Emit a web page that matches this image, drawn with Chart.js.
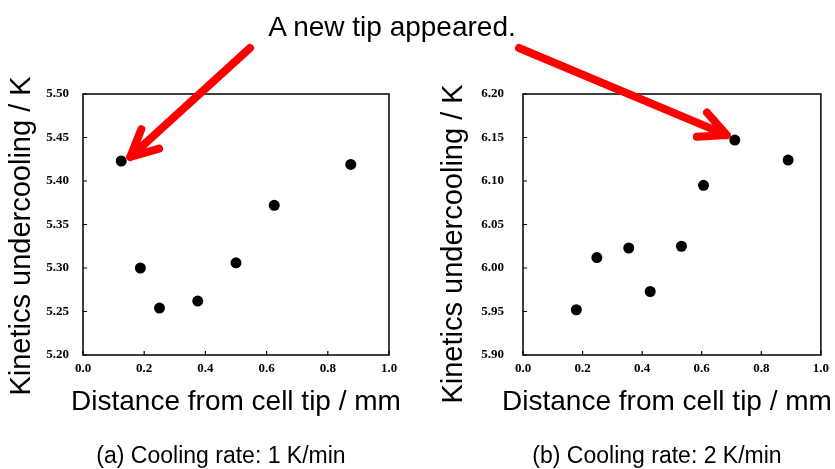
<!DOCTYPE html>
<html>
<head>
<meta charset="utf-8">
<script src="https://cdn.jsdelivr.net/npm/chart.js@4.4.0/dist/chart.umd.min.js"></script>
<style>
	body { margin: 0; background: #fff; }
	#page { position: relative; width: 835px; height: 469px; overflow: hidden; background: #fff; font-family: "Liberation Sans", Arial, sans-serif; }
	canvas { position: absolute; top: 0; }
	.note { position: absolute; left: 0; width: 784px; top: 9px; text-align: center; font-size: 28px; line-height: 36px; color: #000; }
	.caption { position: absolute; top: 440px; font-size: 23px; line-height: 30px; text-align: center; color: #000; }
</style>
</head>
<body>
<div id="page">
	<canvas id="chart-a" width="418" height="469" style="left:0px"></canvas>
	<canvas id="chart-b" width="417" height="469" style="left:418px"></canvas>
	<canvas id="arrows" width="835" height="469" style="left:0px"></canvas>
	<div class="note">A new tip appeared.</div>
	<div class="caption" style="left:61px; width:320px">(a) Cooling rate: 1 K/min</div>
	<div class="caption" style="left:497px; width:320px">(b) Cooling rate: 2 K/min</div>
</div>

<script>
// (a) 1 K/min
var distA = [0.125, 0.1875, 0.25, 0.375, 0.5, 0.625, 0.875];
var underA = [5.423, 5.300, 5.254, 5.262, 5.306, 5.372, 5.419];
var yTicksA = [5.20, 5.25, 5.30, 5.35, 5.40, 5.45, 5.50];

// (b) 2 K/min
var distB = [0.179, 0.248, 0.355, 0.427, 0.532, 0.606, 0.711, 0.890];
var underB = [5.952, 6.012, 6.023, 5.973, 6.025, 6.095, 6.147, 6.124];
var yTicksB = [5.90, 5.95, 6.00, 6.05, 6.10, 6.15, 6.20];

var xTicks = [0.0, 0.2, 0.4, 0.6, 0.8, 1.0];

// the point each arrow points at ("A new tip appeared.")
var newTipA = 0;
var newTipB = 6;

var xTitle = 'Distance from cell tip / mm';
var yTitle = 'Kinetics undercooling / K';

var tickFont = { family: '"Liberation Serif", "Times New Roman", serif', size: 13, weight: 'bold' };

// box round the plot, inward tick marks and the two axis titles
var frame = {
	id: 'frame',
	afterDraw: function (chart, args, o) {
		var a = chart.chartArea;
		var ctx = chart.ctx;
		ctx.save();
		ctx.strokeStyle = '#000';
		ctx.lineWidth = 1.5;
		ctx.strokeRect(a.left, a.top, a.right - a.left, a.bottom - a.top);

		ctx.lineWidth = 1.2;
		ctx.beginPath();
		chart.scales.x.ticks.forEach(function (t) {
			var px = chart.scales.x.getPixelForValue(t.value);
			ctx.moveTo(px, a.bottom);
			ctx.lineTo(px, a.bottom - 4);
		});
		chart.scales.y.ticks.forEach(function (t) {
			var py = chart.scales.y.getPixelForValue(t.value);
			ctx.moveTo(a.left, py);
			ctx.lineTo(a.left + 4, py);
		});
		ctx.stroke();

		ctx.fillStyle = '#000';
		ctx.textAlign = 'center';
		ctx.textBaseline = 'middle';
		ctx.font = '28px "Liberation Sans", Arial, sans-serif';
		ctx.fillText(xTitle, o.xTitleX, 402);

		ctx.translate(o.yTitleX, o.yTitleY);
		ctx.rotate(-Math.PI / 2);
		ctx.font = '29px "Liberation Sans", Arial, sans-serif';
		ctx.fillText(yTitle, 0, 0);
		ctx.restore();
	}
};

function makeChart(id, xs, ys, yTicks, opt) {
	var pts = xs.map(function (x, i) { return { x: x, y: ys[i] }; });

	return new Chart(id, {
		type: 'scatter',
		data: {
			datasets: [{
				data: pts,
				backgroundColor: '#000',
				borderColor: '#000',
				borderWidth: 0,
				pointRadius: 5.5,
				pointHoverRadius: 5.5
			}]
		},
		plugins: [frame],
		options: {
			responsive: false,
			animation: false,
			devicePixelRatio: 1,
			events: [],
			layout: { padding: { top: 94, right: opt.padRight, left: 0, bottom: 0 } },
			plugins: {
				legend: { display: false },
				tooltip: { enabled: false },
				frame: { xTitleX: opt.xTitleX, yTitleX: opt.yTitleX, yTitleY: opt.yTitleY }
			},
			scales: {
				x: {
					type: 'linear',
					min: 0, max: 1,
					afterBuildTicks: function (s) { s.ticks = xTicks.map(function (v) { return { value: v }; }); },
					afterFit: function (s) { s.height = 469 - 355; },
					border: { display: false },
					grid: { display: false, drawTicks: false },
					ticks: {
						color: '#000', font: tickFont, padding: 6, maxRotation: 0,
						callback: function (v) { return Number(v).toFixed(1); }
					}
				},
				y: {
					type: 'linear',
					min: yTicks[0], max: yTicks[yTicks.length - 1],
					afterBuildTicks: function (s) { s.ticks = yTicks.map(function (v) { return { value: v }; }); },
					afterFit: function (s) { s.width = opt.yWidth; },
					border: { display: false },
					grid: { display: false, drawTicks: false },
					ticks: {
						color: '#000', font: tickFont, padding: opt.tickPad,
						callback: function (v) { return Number(v).toFixed(2); }
					}
				}
			}
		}
	});
}

var chartA = makeChart('chart-a', distA, underA, yTicksA,
	{ yWidth: 83, padRight: 29, tickPad: 14, xTitleX: 236, yTitleX: 22, yTitleY: 236 });
var chartB = makeChart('chart-b', distB, underB, yTicksB,
	{ yWidth: 105, padRight: 9, tickPad: 19, xTitleX: 249, yTitleX: 36, yTitleY: 244 });

// red arrows from the note to the new tips
function pointPos(chart, xs, ys, i, offsetLeft) {
	return {
		x: chart.scales.x.getPixelForValue(xs[i]) + offsetLeft,
		y: chart.scales.y.getPixelForValue(ys[i])
	};
}

function arrow(ctx, fx, fy, tx, ty) {
	var ang = Math.atan2(fy - ty, fx - tx);
	var len = 30, spread = 26 * Math.PI / 180;
	ctx.beginPath();
	ctx.moveTo(fx, fy);
	ctx.lineTo(tx, ty);
	ctx.moveTo(tx + len * Math.cos(ang - spread), ty + len * Math.sin(ang - spread));
	ctx.lineTo(tx, ty);
	ctx.lineTo(tx + len * Math.cos(ang + spread), ty + len * Math.sin(ang + spread));
	ctx.stroke();
}

var ctx = document.getElementById('arrows').getContext('2d');
ctx.strokeStyle = '#ff0000';
ctx.lineWidth = 8;
ctx.lineCap = 'round';
ctx.lineJoin = 'round';

var pa = pointPos(chartA, distA, underA, newTipA, 0);
var pb = pointPos(chartB, distB, underB, newTipB, 418);
arrow(ctx, 250, 48, pa.x + 9, pa.y - 4);
arrow(ctx, 519, 48, pb.x - 8, pb.y - 5);
</script>
</body>
</html>
